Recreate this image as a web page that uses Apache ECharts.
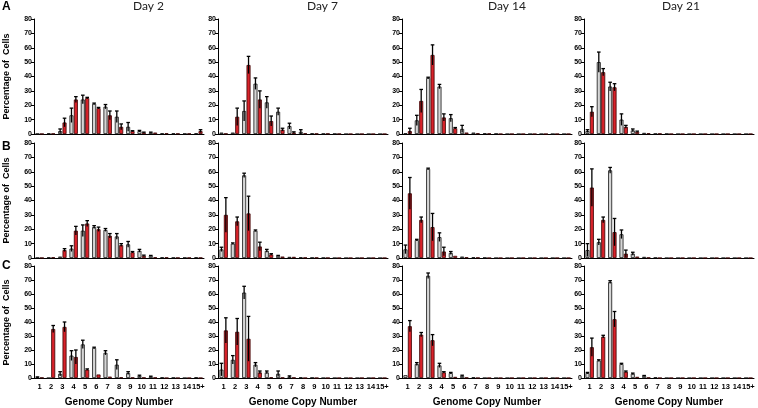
<!DOCTYPE html>
<html>
<head>
<meta charset="utf-8">
<script src="https://cdn.jsdelivr.net/npm/echarts@6/dist/echarts.min.js"></script>
<style>html,body{margin:0;padding:0;background:#fff}#c{width:758px;height:408px}</style>
</head>
<body>
<div id="c"></div>
<script>
const categories = ['1','2','3','4','5','6','7','8','9','10','11','12','13','14','15+'];
const dayTitles = ['Day 2','Day 7','Day 14','Day 21'];
const rowLetters = ['A','B','C'];
const yTicks = [0,10,20,30,40,50,60,70,80];

// Row A
const A2_white    = [0.2,0.5,2,13,24,21,19,12,5,2,1,0.5,0.5,0.3,0.5];
const A2_white_sd = [0,0,1.5,5,3,0.5,1.5,4,3,0.5,0.3,0,0,0,0];
const A2_red      = [0.1,0.3,8,24,25,18,13,5,2,1,1,0.5,0.3,0.3,2];
const A2_red_sd   = [0,0,3,2,0.5,0.5,3,2,0.3,0.3,0,0,0,0,1];
const A7_white    = [1,1,16,35,22,15.5,5.5,1.5,0.5,0.3,0.2,0,0,0,0];
const A7_white_sd = [0,0,7,4,4,2.5,2,1.5,0,0,0,0,0,0,0];
const A7_red      = [0.3,12,48,24,9,3,1,0.5,0.3,0.3,0.1,0,0,0,0];
const A7_red_sd   = [0,6,6,6,3.5,1,0.5,0,0,0,0,0,0,0,0];
const A14_white    = [0.5,9.5,39,33,11,3.5,1,0.5,0.3,0,0,0,0,0,0];
const A14_white_sd = [0,3.5,0.5,1.5,2.5,2.5,0,0,0,0,0,0,0,0,0];
const A14_red      = [2,23,55,11.5,4,1,0.5,0.3,0,0,0,0,0,0,0];
const A14_red_sd   = [2,8,7,2.5,0.5,0,0,0,0,0,0,0,0,0,0];
const A21_white    = [2,50,33,10,2.5,0.8,0.3,0.2,0,0,0,0,0,0,0];
const A21_white_sd = [1,7,3,4,1,0,0,0,0,0,0,0,0,0,0];
const A21_red      = [15.5,43,32.5,5,1.5,0.5,0.3,0,0,0,0,0,0,0,0];
const A21_red_sd   = [3.5,2.5,2.5,1,0.5,0,0,0,0,0,0,0,0,0,0];
// Row B
const B2_white    = [0.2,0.5,1,6.5,19,21.5,19.5,15,9.5,5,1.5,0.5,0.3,0.3,0.5];
const B2_white_sd = [0,0,0,2,4,1,1,2,2,1,0.3,0,0,0,0];
const B2_red      = [0.1,0.5,5.5,19,24,20,15.5,9,4,1.5,0.5,0.5,0.2,0.2,0.2];
const B2_red_sd   = [0,0,1,3,2,1.5,1.5,1,0.5,0.5,0,0,0,0,0];
const B7_white    = [6,10,57.5,19,5,1.5,0.8,0.5,0.3,0.2,0,0,0,0,0];
const B7_white_sd = [1.5,0.5,1.5,0.5,1,0.3,0,0,0,0,0,0,0,0,0];
const B7_red      = [30,25.5,31,8,2.5,1,0.8,0.3,0.3,0.1,0,0,0,0,0];
const B7_red_sd   = [12,3,12,3,0.5,0,0,0,0,0,0,0,0,0,0];
const B14_white    = [6,12.5,62,14.5,3.5,1,0.5,0.3,0,0,0,0,0,0,0];
const B14_white_sd = [3,0.5,0.5,3,1,0,0,0,0,0,0,0,0,0,0];
const B14_red      = [45,26.5,21.5,4.5,1.5,0.5,0.3,0,0,0,0,0,0,0,0];
const B14_red_sd   = [11,2,9.5,3,0,0,0,0,0,0,0,0,0,0,0];
const B21_white    = [5.5,11,61,16.5,3,0.8,0.3,0,0,0,0,0,0,0,0];
const B21_white_sd = [4.5,2,2,3,1,0,0,0,0,0,0,0,0,0,0];
const B21_red      = [49,26.5,18,3,1,0.3,0,0,0,0,0,0,0,0,0];
const B21_red_sd   = [13,2,9.5,2.5,0,0,0,0,0,0,0,0,0,0,0];
// Row C
const C2_white    = [0.5,0,3,16,24,21.5,18,9.5,3.5,1.5,1,0.5,0.3,0,0.5];
const C2_white_sd = [0.3,0,1.5,3.5,3,0.5,1.5,3.5,1,0.5,0.3,0,0,0,0];
const C2_red      = [0.3,35,36.5,15,6,2.5,1,0.5,0.3,0.3,0.3,0,0,0,0];
const C2_red_sd   = [0,2.5,3.5,5,0.5,0,0,0,0,0,0,0,0,0,0];
const C7_white    = [6,13,61,9.5,4,3,1,0.5,0.3,0,0,0,0,0,0];
const C7_white_sd = [4.5,3,4.5,1.5,1,2,0.5,0,0,0,0,0,0,0,0];
const C7_red      = [34,33,28,4,0.5,0.3,0.3,0,0,0,0,0,0,0,0];
const C7_red_sd   = [9,9.5,16,1,0,0,0,0,0,0,0,0,0,0,0];
const C14_white    = [2,10,73,9,3.5,1.5,0.5,0,0,0,0,0,0,0,0];
const C14_white_sd = [0,1,2,1.5,0.5,0.5,0,0,0,0,0,0,0,0,0];
const C14_red      = [37,31,27,4,0.8,0.3,0,0,0,0,0,0,0,0,0];
const C14_red_sd   = [4,1.5,4,0.5,0,0,0,0,0,0,0,0,0,0,0];
const C21_white    = [3.5,12.5,68.5,10,3,1.5,0.5,0,0,0,0,0,0,0,0];
const C21_white_sd = [0.5,0.5,1,0.5,0.5,0.3,0,0,0,0,0,0,0,0,0];
const C21_red      = [22,29.5,42,4.5,0.8,0.3,0,0,0,0,0,0,0,0,0];
const C21_red_sd   = [6.5,1,5.5,0.5,0,0,0,0,0,0,0,0,0,0,0];

const panels = [
  [[A2_white,A2_white_sd,A2_red,A2_red_sd],[A7_white,A7_white_sd,A7_red,A7_red_sd],[A14_white,A14_white_sd,A14_red,A14_red_sd],[A21_white,A21_white_sd,A21_red,A21_red_sd]],
  [[B2_white,B2_white_sd,B2_red,B2_red_sd],[B7_white,B7_white_sd,B7_red,B7_red_sd],[B14_white,B14_white_sd,B14_red,B14_red_sd],[B21_white,B21_white_sd,B21_red,B21_red_sd]],
  [[C2_white,C2_white_sd,C2_red,C2_red_sd],[C7_white,C7_white_sd,C7_red,C7_red_sd],[C14_white,C14_white_sd,C14_red,C14_red_sd],[C21_white,C21_white_sd,C21_red,C21_red_sd]]
];

const colLefts = [34, 218, 402, 584];
const colWidth = 170;
const rowTops = [19, 143, 266];
const rowHeights = [115, 115, 113];
const FONT = 'Liberation Sans';
const BAR_W = 4, OFF = 2.2;

function renderErr(params, api) {
  const cat = api.value(0), m = api.value(1), sd = api.value(2), side = api.value(3);
  if (!(sd > 0)) return null;
  const base = api.coord([cat, m]);
  const x = base[0] + side * OFF;
  const yT = api.coord([cat, m + sd])[1];
  const yB = api.coord([cat, Math.max(0, m - sd)])[1];
  const st = {stroke:'#000', lineWidth:1.3};
  return {type:'group', children:[
    {type:'line', shape:{x1:x,y1:yT,x2:x,y2:yB}, style:st},
    {type:'line', shape:{x1:x-1.8,y1:yT,x2:x+1.8,y2:yT}, style:st}
  ]};
}

const grid = [], xAxis = [], yAxis = [], series = [], graphic = [];
for (let r = 0; r < 3; r++) {
  for (let c = 0; c < 4; c++) {
    const idx = grid.length;
    grid.push({left: colLefts[c], top: rowTops[r], width: colWidth, height: rowHeights[r]});
    const bottomRow = r === 2;
    xAxis.push({
      type:'category', gridIndex: idx, data: categories,
      axisLine:{lineStyle:{color:'#000', width:1}},
      axisTick:{show:false},
      axisLabel:{show: bottomRow, interval:0, color:'#000', fontFamily:FONT, fontWeight:'bold', fontSize:7.5, margin:5},
      name: bottomRow ? 'Genome Copy Number' : '',
      nameLocation:'middle', nameGap:19,
      nameTextStyle:{color:'#000', fontFamily:FONT, fontWeight:'bold', fontSize:10}
    });
    yAxis.push({
      type:'value', gridIndex: idx, min:0, max:80, interval:10,
      splitLine:{show:false},
      axisLine:{show:true, lineStyle:{color:'#000', width:1}},
      axisTick:{show:true, length:3, lineStyle:{color:'#000'}},
      axisLabel:{color:'#000', fontFamily:FONT, fontWeight:'bold', fontSize:7, margin:2}
    });
    const [w, wsd, rd, rsd] = panels[r][c];
    series.push({type:'bar', xAxisIndex:idx, yAxisIndex:idx, data:w, barWidth:BAR_W, barGap:'10%',
      itemStyle:{color:'#d6d6d6', borderColor:'#111', borderWidth:0.8}});
    series.push({type:'bar', xAxisIndex:idx, yAxisIndex:idx, data:rd, barWidth:BAR_W, barGap:'10%',
      itemStyle:{color:'#d8222a', borderColor:'#3a0000', borderWidth:0.8}});
    const errData = [];
    for (let i = 0; i < categories.length; i++) {
      errData.push([i, w[i], wsd[i], -1]);
      errData.push([i, rd[i], rsd[i], 1]);
    }
    series.push({type:'custom', xAxisIndex:idx, yAxisIndex:idx, data:errData,
      encode:{x:0, y:1}, renderItem:renderErr, z:5, silent:true});
  }
}

const titleX = [133, 307, 488, 662];
dayTitles.forEach((t, i) => graphic.push({type:'text', left:titleX[i], top:0,
  style:{text:t, fontFamily:'Lato', fontSize:12, fill:'#222', textAlign:'center'}}));
const letterY = [1, 141, 260];
rowLetters.forEach((t, i) => graphic.push({type:'text', left:2, top:letterY[i],
  style:{text:t, fontFamily:FONT, fontWeight:'bold', fontSize:12, fill:'#000'}}));
for (let r = 0; r < 3; r++) {
  graphic.push({type:'text', x:7, y: rowTops[r] + rowHeights[r]/2, rotation: Math.PI/2,
    style:{text:'Percentage of  Cells', fontFamily:FONT, fontWeight:'bold', fontSize:9, fill:'#000',
      textAlign:'center', textVerticalAlign:'middle'}});
}

const chart = echarts.init(document.getElementById('c'), null, {renderer:'canvas'});
chart.setOption({animation:false, grid, xAxis, yAxis, series, graphic});
</script>
</body>
</html>
